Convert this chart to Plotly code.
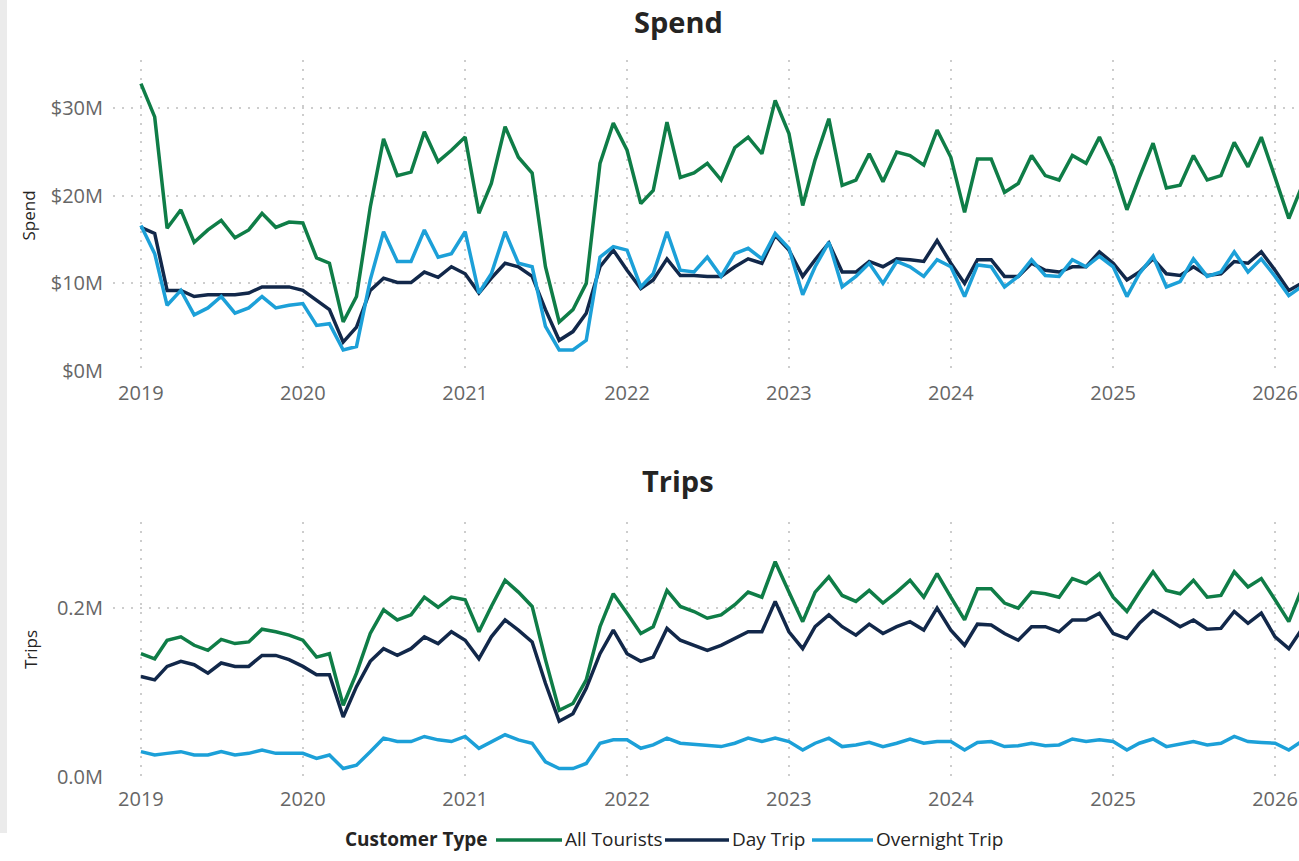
import pandas as pd
import plotly.graph_objects as go

# ---- data (monthly, Jan 2019 - Mar 2026) ----
months = pd.date_range("2019-01-01", periods=87, freq="MS")
customer_types = ["All Tourists", "Day Trip", "Overnight Trip"]

# Spend, $ millions
spend_all = [
    32.8, 29.0, 16.3, 18.4, 14.7, 16.1, 17.2, 15.2, 16.1, 18.0, 16.4, 17.0,
    16.9, 12.9, 12.3, 5.6, 8.5, 18.7, 26.5, 22.3, 22.7, 27.3, 23.9, 25.2,
    26.7, 18.0, 21.4, 27.9, 24.4, 22.6, 11.9, 5.6, 7.0, 10.0, 23.7, 28.3,
    25.2, 19.1, 20.6, 28.4, 22.1, 22.6, 23.7, 21.8, 25.5, 26.7, 24.8, 30.9,
    27.1, 18.9, 24.1, 28.8, 21.2, 21.8, 24.8, 21.6, 25.0, 24.6, 23.5, 27.5,
    24.4, 18.1, 24.2, 24.2, 20.4, 21.4, 24.6, 22.3, 21.8, 24.6, 23.7, 26.7,
    23.3, 18.4, 22.1, 26.0, 20.9, 21.2, 24.6, 21.8, 22.3, 26.1, 23.3, 26.7,
    22.1, 17.4, 20.9,
]
spend_day = [
    16.4, 15.7, 9.2, 9.2, 8.5, 8.7, 8.7, 8.7, 8.9, 9.6, 9.6, 9.6,
    9.2, 8.1, 7.0, 3.3, 5.0, 9.2, 10.6, 10.1, 10.1, 11.3, 10.7, 11.9,
    11.1, 8.9, 10.6, 12.3, 11.9, 10.8, 7.0, 3.5, 4.5, 6.6, 11.9, 13.8,
    11.5, 9.4, 10.4, 12.8, 10.9, 10.9, 10.8, 10.8, 11.9, 12.8, 12.3, 15.5,
    13.8, 10.8, 12.7, 14.6, 11.3, 11.3, 12.5, 11.9, 12.8, 12.7, 12.5, 14.9,
    12.3, 10.0, 12.7, 12.7, 10.8, 10.8, 12.3, 11.5, 11.3, 11.9, 11.9, 13.6,
    12.3, 10.4, 11.3, 12.8, 11.1, 10.9, 11.9, 10.9, 11.1, 12.5, 12.3, 13.6,
    11.5, 9.2, 10.0,
]
spend_overnight = [
    16.6, 13.4, 7.5, 9.2, 6.4, 7.2, 8.5, 6.6, 7.2, 8.5, 7.2, 7.5,
    7.7, 5.2, 5.4, 2.4, 2.8, 10.4, 15.9, 12.5, 12.5, 16.1, 13.0, 13.4,
    15.9, 8.9, 11.1, 15.9, 12.3, 11.9, 5.1, 2.4, 2.4, 3.5, 13.0, 14.2,
    13.8, 9.6, 11.1, 15.9, 11.5, 11.3, 13.0, 10.8, 13.4, 14.0, 12.8, 15.7,
    14.0, 8.7, 11.9, 14.7, 9.6, 10.8, 12.3, 10.0, 12.5, 11.9, 10.8, 12.7,
    11.9, 8.5, 12.1, 11.9, 9.6, 10.8, 12.7, 10.9, 10.8, 12.7, 11.9, 13.1,
    11.9, 8.5, 11.1, 13.1, 9.6, 10.2, 12.8, 10.8, 11.3, 13.6, 11.3, 12.8,
    10.8, 8.6, 9.6,
]

# Trips, millions
trips_all = [
    0.146, 0.140, 0.162, 0.166, 0.156, 0.150, 0.163, 0.158, 0.160, 0.175, 0.172, 0.168,
    0.162, 0.142, 0.146, 0.085, 0.123, 0.170, 0.198, 0.186, 0.192, 0.213, 0.201, 0.213,
    0.210, 0.172, 0.202, 0.233, 0.219, 0.202, 0.139, 0.079, 0.087, 0.115, 0.178, 0.217,
    0.194, 0.170, 0.178, 0.221, 0.202, 0.196, 0.188, 0.192, 0.204, 0.219, 0.213, 0.255,
    0.219, 0.184, 0.219, 0.237, 0.215, 0.208, 0.221, 0.206, 0.219, 0.233, 0.213, 0.241,
    0.213, 0.186, 0.223, 0.223, 0.206, 0.200, 0.219, 0.217, 0.213, 0.235, 0.229, 0.241,
    0.213, 0.196, 0.219, 0.243, 0.221, 0.217, 0.233, 0.213, 0.215, 0.243, 0.225, 0.235,
    0.210, 0.184, 0.221,
]
trips_day = [
    0.119, 0.115, 0.131, 0.137, 0.133, 0.123, 0.135, 0.131, 0.131, 0.144, 0.144, 0.139,
    0.131, 0.121, 0.121, 0.071, 0.107, 0.137, 0.152, 0.144, 0.152, 0.166, 0.158, 0.172,
    0.162, 0.140, 0.166, 0.186, 0.174, 0.160, 0.111, 0.066, 0.075, 0.105, 0.146, 0.174,
    0.146, 0.137, 0.142, 0.176, 0.162, 0.156, 0.150, 0.156, 0.164, 0.172, 0.172, 0.208,
    0.172, 0.152, 0.178, 0.192, 0.178, 0.168, 0.181, 0.170, 0.178, 0.184, 0.174, 0.200,
    0.174, 0.156, 0.181, 0.180, 0.170, 0.162, 0.178, 0.178, 0.172, 0.186, 0.186, 0.194,
    0.170, 0.164, 0.182, 0.197, 0.188, 0.178, 0.186, 0.175, 0.176, 0.196, 0.182, 0.194,
    0.166, 0.152, 0.174,
]
trips_overnight = [
    0.030, 0.026, 0.028, 0.030, 0.026, 0.026, 0.030, 0.026, 0.028, 0.032, 0.028, 0.028,
    0.028, 0.022, 0.026, 0.010, 0.014, 0.030, 0.046, 0.042, 0.042, 0.048, 0.044, 0.042,
    0.048, 0.034, 0.042, 0.050, 0.044, 0.040, 0.018, 0.010, 0.010, 0.016, 0.040, 0.044,
    0.044, 0.034, 0.038, 0.046, 0.040, 0.039, 0.038, 0.036, 0.040, 0.046, 0.042, 0.046,
    0.042, 0.032, 0.040, 0.046, 0.036, 0.038, 0.041, 0.036, 0.040, 0.045, 0.040, 0.042,
    0.042, 0.032, 0.041, 0.042, 0.036, 0.037, 0.040, 0.037, 0.038, 0.045, 0.042, 0.044,
    0.042, 0.032, 0.040, 0.045, 0.036, 0.039, 0.042, 0.038, 0.040, 0.048, 0.042, 0.041,
    0.040, 0.032, 0.042,
]

spend_ticks = [0, 10, 20, 30]
spend_ticktext = ["$0M", "$10M", "$20M", "$30M"]
trips_ticks = [0, 0.2]
trips_ticktext = ["0.0M", "0.2M"]
year_ticks = pd.date_range("2019-01-01", "2026-01-01", freq="YS")
year_ticktext = [str(d.year) for d in year_ticks]
legend_title = "Customer Type"

colors = {"All Tourists": "#0F7D47", "Day Trip": "#12284A", "Overnight Trip": "#1CA0D8"}

W, H = 1299, 861
VIS_H = 848  # effective height at which the page is photographed
FONT = "Open Sans, Segoe UI, sans-serif"
TICK_FONT = dict(family=FONT, size=20, color="#666666")
DARK = "#252423"


def px(x):
    return x / W


def py(y):
    return 1 - y / VIS_H


fig = go.Figure()
spend_series = {"All Tourists": spend_all, "Day Trip": spend_day, "Overnight Trip": spend_overnight}
trips_series = {"All Tourists": trips_all, "Day Trip": trips_day, "Overnight Trip": trips_overnight}

for name in customer_types:
    fig.add_trace(go.Scatter(x=months, y=spend_series[name], mode="lines", name=name,
                             line=dict(color=colors[name], width=3.5),
                             xaxis="x", yaxis="y"))
for name in customer_types:
    fig.add_trace(go.Scatter(x=months, y=trips_series[name], mode="lines", name=name,
                             line=dict(color=colors[name], width=3.5),
                             xaxis="x2", yaxis="y2"))

xrange = ["2018-10-30", "2026-02-24"]
grid = dict(showgrid=True, gridcolor="#CDCDCD", griddash="2px,7px", gridwidth=2,
            zeroline=False, showline=False, ticks="")
xcommon = dict(range=xrange, tickvals=list(year_ticks), ticktext=year_ticktext,
               tickfont=TICK_FONT, ticklabelstandoff=8, domain=[px(113), 1.0], **grid)
ytitle_font = dict(family=FONT, size=17, color=DARK)

# manual legend (placed in figure pixels)
legend_y = 839
legend_items = [  # (name, line start, line end, text start)
    ("All Tourists", 496, 562, 563),
    ("Day Trip", 665, 729, 730),
    ("Overnight Trip", 812, 873, 874),
]
annotations = [
    dict(text="<b>Spend</b>", x=px(678), y=py(22), xref="paper", yref="paper",
         xanchor="center", yanchor="middle", showarrow=False,
         font=dict(family=FONT, size=29, color=DARK)),
    dict(text="<b>Trips</b>", x=px(678), y=py(480), xref="paper", yref="paper",
         xanchor="center", yanchor="middle", showarrow=False,
         font=dict(family=FONT, size=29, color=DARK)),
    dict(text="<b>%s</b>" % legend_title, x=px(343), y=py(legend_y), xref="paper", yref="paper",
         xanchor="left", yanchor="middle", showarrow=False,
         font=dict(family=FONT, size=19, color=DARK)),
]
shapes = [
    dict(type="rect", xref="paper", yref="paper", x0=0, x1=px(7), y0=py(833), y1=1,
         fillcolor="#EBEBEB", line=dict(width=0), layer="below"),
]
for name, x0, x1, xt in legend_items:
    shapes.append(dict(type="line", xref="paper", yref="paper", x0=px(x0), x1=px(x1),
                       y0=py(legend_y + 1), y1=py(legend_y + 1),
                       line=dict(color=colors[name], width=3.5)))
    annotations.append(dict(text=name, x=px(xt), y=py(legend_y), xref="paper", yref="paper",
                            xanchor="left", yanchor="middle", showarrow=False,
                            font=dict(family=FONT, size=19, color=DARK)))

fig.update_layout(
    width=W, height=H, autosize=False,
    margin=dict(l=0, r=0, t=0, b=0),
    paper_bgcolor="white", plot_bgcolor="white",
    font=dict(family=FONT, color=DARK),
    showlegend=False,
    xaxis=dict(anchor="y", **xcommon),
    yaxis=dict(anchor="x", domain=[py(371), py(60)], range=[0, 35.5],
               tickvals=spend_ticks, ticktext=spend_ticktext, tickfont=TICK_FONT,
               ticklabelstandoff=9,
               title=dict(text="Spend", font=ytitle_font, standoff=10),
               **grid),
    xaxis2=dict(anchor="y2", **xcommon),
    yaxis2=dict(anchor="x2", domain=[py(777), py(522)], range=[0, 0.302],
                tickvals=trips_ticks, ticktext=trips_ticktext, tickfont=TICK_FONT,
                ticklabelstandoff=9,
                title=dict(text="Trips", font=ytitle_font, standoff=14),
                **grid),
    annotations=annotations,
    shapes=shapes,
)

fig.write_html("out.html", config={"displayModeBar": False},
               post_script="document.body.style.margin='0';document.body.style.overflow='hidden';")
